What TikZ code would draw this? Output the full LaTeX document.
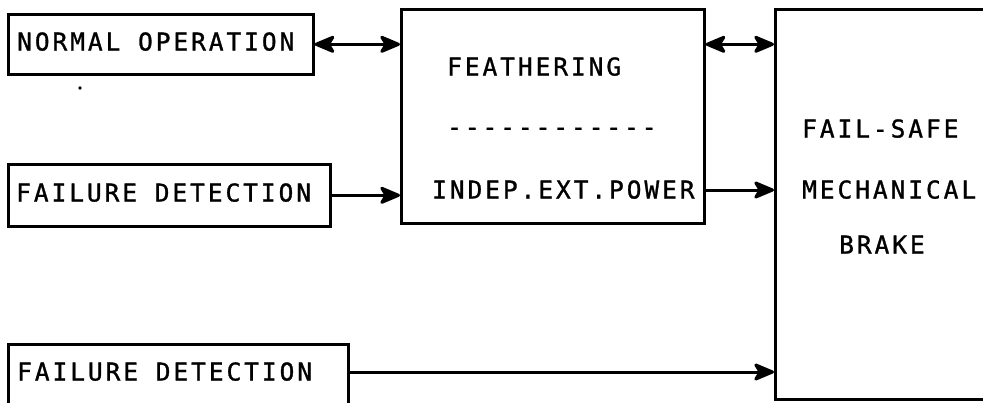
\documentclass[tikz,border=0pt]{standalone}
\usepackage{fontspec}
\newfontfamily\plotfont[LetterSpace=12, FakeBold=1.2]{DejaVu Sans Mono}
\usetikzlibrary{arrows.meta}
\begin{document}
\begin{tikzpicture}[x=1pt,y=-1pt,
  box/.style={draw, line width=2.6pt, inner sep=0pt, anchor=north west},
  lbl/.style={font=\plotfont\fontsize{24.5}{28}\selectfont, inner sep=0pt, text height=17pt, text depth=0pt, anchor=west},
  conn/.style={line width=3pt, arrows={-Stealth[length=24pt,width=20pt,inset=6pt,round]}},
  dconn/.style={line width=3pt, arrows={Stealth[length=24pt,width=20pt,inset=6pt,round]-Stealth[length=24pt,width=20pt,inset=6pt,round]}}]
\useasboundingbox (0,0) rectangle (983,402);
\clip (0,0) rectangle (983,402);
% boxes
\node[box, minimum width=305pt, minimum height=60pt] (normal) at (7,13) {};
\node[box, minimum width=322pt, minimum height=62pt] (fd1) at (7,163) {};
\node[box, minimum width=340pt, minimum height=80pt] (fd2) at (7,343) {};
\node[box, minimum width=303pt, minimum height=214pt] (feather) at (400,8) {};
\node[box, minimum width=240pt, minimum height=390pt] (brake) at (774,8) {};
% labels
\node[lbl] (normalt) at (17,42) {NORMAL OPERATION};
\node[lbl] (fd1t) at (16,193) {FAILURE DETECTION};
\node[lbl] (fd2t) at (17,372) {FAILURE DETECTION};
\node[lbl] (feat) at (447,67) {FEATHERING};
\node[lbl] (dash) at (447,127) {------------};
\node[lbl] (indep) at (432,190) {INDEP.EXT.POWER};
\node[lbl] (fs) at (802,129) {FAIL-SAFE};
\node[lbl] (mech) at (802,190) {MECHANICAL};
\node[lbl] (brk) at (839,245) {BRAKE};
% stray dot
\fill (80,88) circle (1.8pt);
% connectors
\draw[dconn] (normal.east) -- (normal.east -| feather.west);
\draw[dconn] (feather.east |- normal.east) -- (brake.west |- normal.east);
\draw[conn] (fd1.east) -- (fd1.east -| feather.west);
\draw[conn] (feather.east |- indep.west) -- (brake.west |- indep.west);
\draw[conn] (fd2.east |- fd2t.west) -- (brake.west |- fd2t.west);
\end{tikzpicture}
\end{document}
